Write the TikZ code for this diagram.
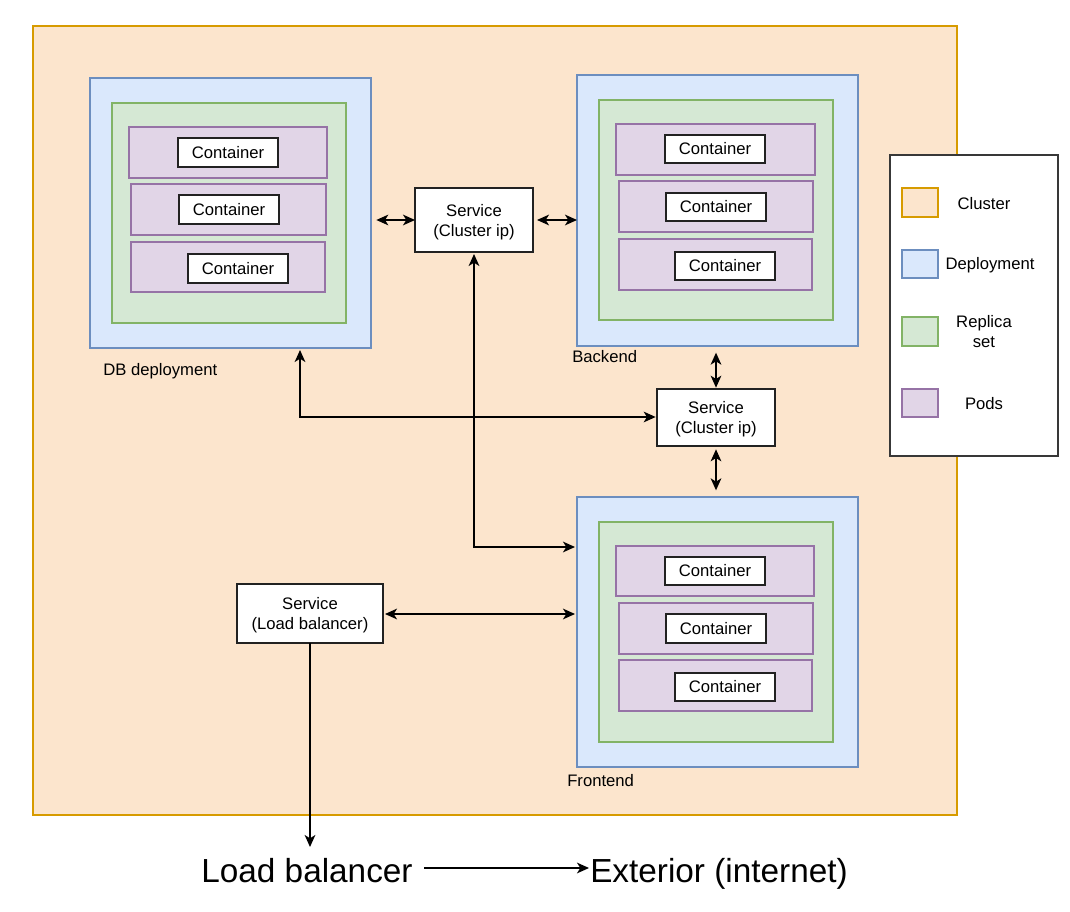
\documentclass[tikz,border=0pt]{standalone}
\usepackage{fontspec}
\setmainfont{Liberation Sans}
\usetikzlibrary{arrows.meta,fit}
\definecolor{clFill}{HTML}{FCE5CD}
\definecolor{clDraw}{HTML}{D79B00}
\definecolor{dpFill}{HTML}{DAE8FC}
\definecolor{dpDraw}{HTML}{6C8EBF}
\definecolor{rsFill}{HTML}{D5E8D4}
\definecolor{rsDraw}{HTML}{82B366}
\definecolor{pdFill}{HTML}{E1D5E7}
\definecolor{pdDraw}{HTML}{9673A6}
\definecolor{dk}{HTML}{222222}
\tikzset{
  base/.style={inner sep=0pt, outer sep=0pt, rectangle},
  clusterbox/.style={base, fill=clFill, draw=clDraw, line width=1pt},
  depbox/.style={base, fill=dpFill, draw=dpDraw, line width=1pt},
  rsbox/.style={base, fill=rsFill, draw=rsDraw, line width=1pt},
  podbox/.style={base, fill=pdFill, draw=pdDraw, line width=1pt},
  contbox/.style={base, fill=white, draw=dk, line width=1.1pt},
  svcbox/.style={base, fill=white, draw=dk, line width=1.1pt},
  legbox/.style={base, fill=white, draw=dk!90, line width=1.1pt},
  lbl/.style={inner sep=0pt, font=\fontsize{12.5pt}{15pt}\selectfont, align=center},
  biglbl/.style={inner sep=0pt, font=\fontsize{25pt}{30pt}\selectfont},
  arr/.style={-{Stealth[length=9pt,width=8pt,inset=2.5pt]}, line width=1.3pt},
  barr/.style={{Stealth[length=9pt,width=8pt,inset=2.5pt]}-{Stealth[length=9pt,width=8pt,inset=2.5pt]}, line width=1.3pt},
}
\begin{document}
\begin{tikzpicture}[x=0.75pt,y=-0.75pt]
\useasboundingbox[fill=white] (0,0) rectangle (1070,912);
% cluster
\node[clusterbox, fit={(33,26) (957,815)}] (cluster) {};
% DB deployment
\node[depbox, fit={(90,78) (371,348)}] (db) {};
\node[rsbox, fit={(112,103) (346,323)}] (dbrs) {};
\node[podbox, fit={(129,127) (327,178)}] (dbp1) {};
\node[podbox, fit={(131,184) (326,235)}] (dbp2) {};
\node[podbox, fit={(131,242) (325,292)}] (dbp3) {};
\node[contbox, fit={(178,138) (278,167)}] (dbc1) {};
\node[contbox, fit={(179,195) (279,224)}] (dbc2) {};
\node[contbox, fit={(188,254) (288,283)}] (dbc3) {};
\node[lbl] at (dbc1.center) {Container};
\node[lbl] at (dbc2.center) {Container};
\node[lbl] at (dbc3.center) {Container};
\node[lbl, anchor=west] (dblbl) at (103,371) {DB deployment};
% Backend
\node[depbox, fit={(577,75) (858,346)}] (be) {};
\node[rsbox, fit={(599,100) (833,320)}] (bers) {};
\node[podbox, fit={(616,124) (815,175)}] (bep1) {};
\node[podbox, fit={(619,181) (813,232)}] (bep2) {};
\node[podbox, fit={(619,239) (812,290)}] (bep3) {};
\node[contbox, fit={(665,135) (765,163)}] (bec1) {};
\node[contbox, fit={(666,193) (766,221)}] (bec2) {};
\node[contbox, fit={(675,252) (775,280)}] (bec3) {};
\node[lbl] at (bec1.center) {Container};
\node[lbl] at (bec2.center) {Container};
\node[lbl] at (bec3.center) {Container};
\node[lbl, anchor=west] (belbl) at (572,357) {Backend};
% Frontend
\node[depbox, fit={(577,497) (858,767)}] (fe) {};
\node[rsbox, fit={(599,522) (833,742)}] (fers) {};
\node[podbox, fit={(616,546) (814,596)}] (fep1) {};
\node[podbox, fit={(619,603) (813,654)}] (fep2) {};
\node[podbox, fit={(619,660) (812,711)}] (fep3) {};
\node[contbox, fit={(665,557) (765,585)}] (fec1) {};
\node[contbox, fit={(666,614) (766,643)}] (fec2) {};
\node[contbox, fit={(675,673) (775,701)}] (fec3) {};
\node[lbl] at (fec1.center) {Container};
\node[lbl] at (fec2.center) {Container};
\node[lbl] at (fec3.center) {Container};
\node[lbl, anchor=west] (felbl) at (567,781) {Frontend};
% services
\node[svcbox, fit={(415,188) (533,252)}] (s1) {};
\node[lbl] at ([yshift=-1.5pt]s1.center) {Service\\(Cluster ip)};
\node[svcbox, fit={(657,389) (775,446)}] (s2) {};
\node[lbl] at ([yshift=-1.5pt]s2.center) {Service\\(Cluster ip)};
\node[svcbox, fit={(237,584) (383,643)}] (lb) {};
\node[lbl] at ([yshift=-1.5pt]lb.center) {Service\\(Load balancer)};
% legend
\node[legbox, fit={(890,155) (1058,456)}] (legend) {};
\node[base, fill=clFill, draw=clDraw, line width=1pt, fit={(902,188) (938,217)}] (lg1) {};
\node[base, fill=dpFill, draw=dpDraw, line width=1pt, fit={(902,250) (938,278)}] (lg2) {};
\node[base, fill=rsFill, draw=rsDraw, line width=1pt, fit={(902,317) (938,346)}] (lg3) {};
\node[base, fill=pdFill, draw=pdDraw, line width=1pt, fit={(902,389) (938,417)}] (lg4) {};
\node[lbl] (lt1) at (984,204) {Cluster};
\node[lbl] (lt2) at (990,265) {Deployment};
\node[lbl] (lt3) at (984,332) {Replica\\set};
\node[lbl] (lt4) at (984,404) {Pods};
% bottom texts
\node[biglbl, anchor=base] (lbtext) at (307,882) {Load balancer};
\node[biglbl, anchor=base] (ext) at (719,882) {Exterior (internet)};
\coordinate (la) at (424,868);
\coordinate (lz) at (589,868);
\coordinate (lbend) at (310,847);
\coordinate (s1b) at (474,252);
\coordinate (dbb) at (300,348);
% connectors
\draw[barr, shorten <=4pt] (db.east |- 0,220) -- (s1.west |- 0,220);
\draw[barr, shorten <=3pt] (s1.east |- 0,220) -- (be.west |- 0,220);
\draw[barr, shorten <=1.5pt, shorten >=1.5pt] (s1b) |- (fe.west |- 0,547);
\draw[barr, shorten <=1.5pt, shorten >=1pt] (dbb) |- (s2.west |- 0,417);
\draw[barr, shorten <=5pt, shorten >=1pt] (be.south -| 716,0) -- (s2.north -| 716,0);
\draw[barr, shorten <=2.5pt, shorten >=5pt] (s2.south -| 716,0) -- (fe.north -| 716,0);
\draw[barr, shorten <=1.5pt, shorten >=1.5pt] (lb.east |- 0,614) -- (fe.west |- 0,614);
\draw[arr] (lb.south -| lbend) -- (lbend);
\draw[arr] (la) -- (lz);
\end{tikzpicture}
\end{document}
